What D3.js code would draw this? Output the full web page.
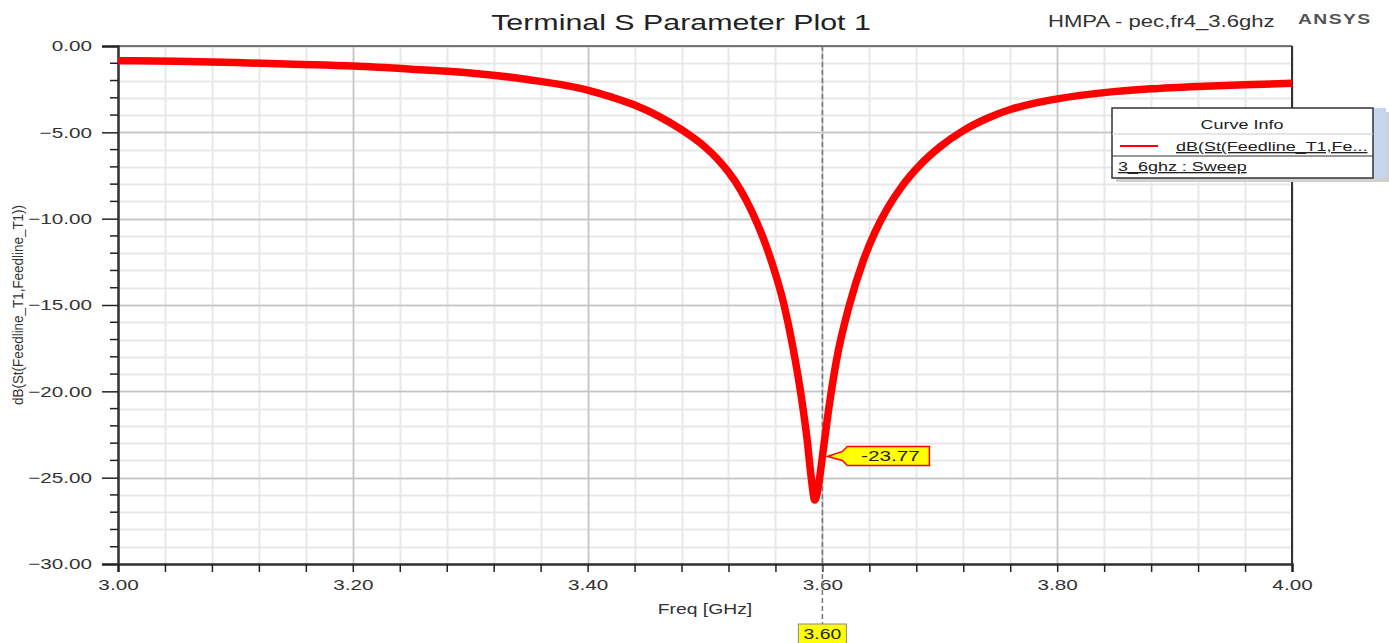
<!DOCTYPE html>
<html>
<head>
<meta charset="utf-8">
<script src="https://cdn.jsdelivr.net/npm/d3@7"></script>
<style>
  body { margin: 0; background: #fff; }
  svg { display: block; font-family: "Liberation Sans", Arial, sans-serif; }
</style>
</head>
<body>
<div id="chart"></div>
<script>
// values
var freq = [3.00, 3.05, 3.10, 3.15, 3.20, 3.25, 3.30, 3.35, 3.40, 3.42, 3.44, 3.46, 3.48, 3.50,
            3.51, 3.52, 3.53, 3.54, 3.55, 3.56, 3.567, 3.575, 3.582, 3.587, 3.5905, 3.5935,
            3.597, 3.600, 3.605, 3.612, 3.623, 3.635, 3.645, 3.655, 3.668, 3.683, 3.70, 3.72,
            3.74, 3.76, 3.78, 3.80, 3.84, 3.88, 3.92, 3.96, 4.00];
var dB = [-0.85, -0.89, -0.96, -1.06, -1.16, -1.34, -1.56, -1.95, -2.55, -2.95, -3.42, -4.05, -4.85, -5.85,
          -6.5, -7.3, -8.3, -9.6, -11.2, -13.2, -14.9, -17.5, -20.3, -22.8, -25.0, -26.3,
          -25.3, -23.77, -21.2, -18.2, -15.0, -12.4, -10.75, -9.45, -8.1, -6.9, -5.85, -4.9,
          -4.2, -3.68, -3.32, -3.06, -2.70, -2.48, -2.34, -2.24, -2.16];
var xTicks = [3.00, 3.20, 3.40, 3.60, 3.80, 4.00];
var yTicks = [0, -5, -10, -15, -20, -25, -30];
var markerFreq = 3.60;
var markerVal = -23.77;

var width = 1389, height = 643;
var margin = {top: 46, right: 97, bottom: 79, left: 118};
var K = 1.38; // the source picture is stretched sideways

function stretch(sel) {
  sel.each(function() {
    var l = this.getComputedTextLength();
    d3.select(this).attr("textLength", l * K).attr("lengthAdjust", "spacingAndGlyphs");
  });
}

var svg = d3.select("#chart").append("svg")
    .attr("width", width)
    .attr("height", height);

var x = d3.scaleLinear().domain([3, 4]).range([margin.left, width - margin.right]);
var y = d3.scaleLinear().domain([-30, 0]).range([height - margin.bottom, margin.top]);

// grid
var minorX = d3.range(3, 4.0001, 0.04);
var minorY = d3.range(-30, 0.0001, 1);
svg.append("g").selectAll("line").data(minorX).enter().append("line")
    .attr("x1", function(d) { return Math.round(x(d)) + 0.5; })
    .attr("x2", function(d) { return Math.round(x(d)) + 0.5; })
    .attr("y1", y(0)).attr("y2", y(-30))
    .attr("stroke", "#e8e8e8").attr("stroke-width", 2);
svg.append("g").selectAll("line").data(minorY).enter().append("line")
    .attr("y1", function(d) { return Math.round(y(d)) + 0.5; })
    .attr("y2", function(d) { return Math.round(y(d)) + 0.5; })
    .attr("x1", x(3)).attr("x2", x(4))
    .attr("stroke", "#e8e8e8").attr("stroke-width", 2);
svg.append("g").selectAll("line").data(xTicks).enter().append("line")
    .attr("x1", function(d) { return Math.round(x(d)) + 0.5; })
    .attr("x2", function(d) { return Math.round(x(d)) + 0.5; })
    .attr("y1", y(0)).attr("y2", y(-30))
    .attr("stroke", "#c4c4c4").attr("stroke-width", 1.5);
svg.append("g").selectAll("line").data(yTicks).enter().append("line")
    .attr("y1", function(d) { return Math.round(y(d)) + 0.5; })
    .attr("y2", function(d) { return Math.round(y(d)) + 0.5; })
    .attr("x1", x(3)).attr("x2", x(4))
    .attr("stroke", "#c4c4c4").attr("stroke-width", 1.5);

// frame top / right
svg.append("line").attr("x1", x(3)).attr("x2", x(4)).attr("y1", y(0)).attr("y2", y(0))
    .attr("stroke", "#555").attr("stroke-width", 1.5);
svg.append("line").attr("x1", x(4)).attr("x2", x(4)).attr("y1", y(0)).attr("y2", y(-30))
    .attr("stroke", "#333").attr("stroke-width", 2);

// axes
var yAxis = d3.axisLeft(y).tickValues(yTicks).tickSize(16).tickPadding(10)
    .tickFormat(function(d) { return d3.format(".2f")(d); });
var gy = svg.append("g").attr("transform", "translate(" + x(3) + ",0)").call(yAxis);
svg.append("g").selectAll("line").data(minorY.filter(function(d) { return d % 5 !== 0; })).enter().append("line")
    .attr("x1", x(3) - 8).attr("x2", x(3))
    .attr("y1", function(d) { return y(d); }).attr("y2", function(d) { return y(d); })
    .attr("stroke", "#222").attr("stroke-width", 1.5);

var xAxis = d3.axisBottom(x).tickValues(minorX).tickSize(8).tickPadding(7)
    .tickFormat(function(d) {
      var r = Math.round(d * 100) / 100;
      return xTicks.some(function(t) { return Math.abs(t - r) < 1e-6; }) ? d3.format(".2f")(r) : "";
    });
var gx = svg.append("g").attr("transform", "translate(0," + y(-30) + ")").call(xAxis);

[gx, gy].forEach(function(g) {
  g.select(".domain").attr("stroke", "#333").attr("stroke-width", 2.5);
  g.selectAll(".tick line").attr("stroke", "#222").attr("stroke-width", 1.5);
  g.selectAll(".tick text").attr("fill", "#333").style("font-size", "15px").call(stretch);
});

// marker line
svg.append("line")
    .attr("x1", x(markerFreq)).attr("x2", x(markerFreq))
    .attr("y1", y(0)).attr("y2", 624)
    .attr("stroke", "#777").attr("stroke-width", 1.5)
    .attr("stroke-dasharray", "5,3");

// curve
var line = d3.line()
    .curve(d3.curveMonotoneX)
    .x(function(d, i) { return x(freq[i]); })
    .y(function(d) { return y(d); });
svg.append("path")
    .datum(dB)
    .attr("d", line)
    .attr("fill", "none")
    .attr("stroke", "#ff0000")
    .attr("stroke-width", 7.5)
    .attr("stroke-linejoin", "round");

// marker value label
var mx = x(markerFreq) + 5, my = y(markerVal);
svg.append("path")
    .attr("d", "M" + mx + "," + my + " L" + (mx + 15) + "," + (my - 5) + " L" + (mx + 20) + "," + (my - 10) +
      " L" + (mx + 102) + "," + (my - 10) + " L" + (mx + 102) + "," + (my + 9) + " L" + (mx + 20) + "," + (my + 9) +
      " L" + (mx + 15) + "," + (my + 4) + " Z")
    .attr("fill", "#ffff00").attr("stroke", "#ff0000").attr("stroke-width", 1.5);
svg.append("text")
    .attr("x", mx + 63).attr("y", my + 5)
    .attr("text-anchor", "middle")
    .style("font-size", "15px").attr("fill", "#222")
    .text(markerVal.toFixed(2)).call(stretch);

// marker freq label
svg.append("rect")
    .attr("x", x(markerFreq) - 24).attr("y", 624)
    .attr("width", 48).attr("height", 22)
    .attr("fill", "#ffff00").attr("stroke", "#888").attr("stroke-width", 1);
svg.append("text")
    .attr("x", x(markerFreq)).attr("y", 639)
    .attr("text-anchor", "middle")
    .style("font-size", "14px").attr("fill", "#222")
    .text(markerFreq.toFixed(2)).call(stretch);

// titles
svg.append("text")
    .attr("x", 681).attr("y", 30)
    .attr("text-anchor", "middle")
    .style("font-size", "22px").attr("fill", "#222")
    .text("Terminal S Parameter Plot 1").call(stretch);
svg.append("text")
    .attr("x", 1048).attr("y", 27)
    .style("font-size", "16px").attr("fill", "#333")
    .text("HMPA - pec,fr4_3.6ghz").call(stretch);
svg.append("text")
    .attr("x", 1298).attr("y", 24)
    .style("font-size", "14px").style("font-weight", "bold").style("letter-spacing", "1px")
    .attr("fill", "#555")
    .text("ANSYS").call(stretch);

svg.append("text")
    .attr("x", 705).attr("y", 614)
    .attr("text-anchor", "middle")
    .style("font-size", "14px").attr("fill", "#333")
    .text("Freq [GHz]").call(stretch);
svg.append("text")
    .attr("transform", "translate(23,305) rotate(-90)")
    .attr("text-anchor", "middle")
    .attr("textLength", 200).attr("lengthAdjust", "spacingAndGlyphs")
    .style("font-size", "14px").attr("fill", "#333")
    .text("dB(St(Feedline_T1,Feedline_T1))");

// curve info box
var lg = svg.append("g").attr("transform", "translate(1112,108)");
lg.append("rect").attr("x", 4).attr("y", 4).attr("width", 273).attr("height", 70).attr("fill", "#d0d0d0");
lg.append("rect").attr("x", 261).attr("y", 0).attr("width", 13).attr("height", 70).attr("fill", "#c6d6ee");
lg.append("rect").attr("x", 0).attr("y", 0).attr("width", 261).attr("height", 70)
    .attr("fill", "#fff").attr("stroke", "#333").attr("stroke-width", 1.5);
lg.append("line").attr("x1", 0).attr("x2", 261).attr("y1", 26).attr("y2", 26).attr("stroke", "#ccc");
lg.append("line").attr("x1", 0).attr("x2", 261).attr("y1", 48).attr("y2", 48).attr("stroke", "#333");
lg.append("text").attr("x", 130).attr("y", 21).attr("text-anchor", "middle")
    .style("font-size", "13px").attr("fill", "#222").text("Curve Info").call(stretch);
lg.append("line").attr("x1", 8).attr("x2", 46).attr("y1", 38).attr("y2", 38)
    .attr("stroke", "#ff0000").attr("stroke-width", 2);
lg.append("text").attr("x", 64).attr("y", 43)
    .style("font-size", "13px").style("text-decoration", "underline").attr("fill", "#222")
    .text("dB(St(Feedline_T1,Fe...").call(stretch);
lg.append("text").attr("x", 6).attr("y", 63)
    .style("font-size", "13px").style("text-decoration", "underline").attr("fill", "#222")
    .text("3_6ghz : Sweep").call(stretch);
</script>
</body>
</html>
